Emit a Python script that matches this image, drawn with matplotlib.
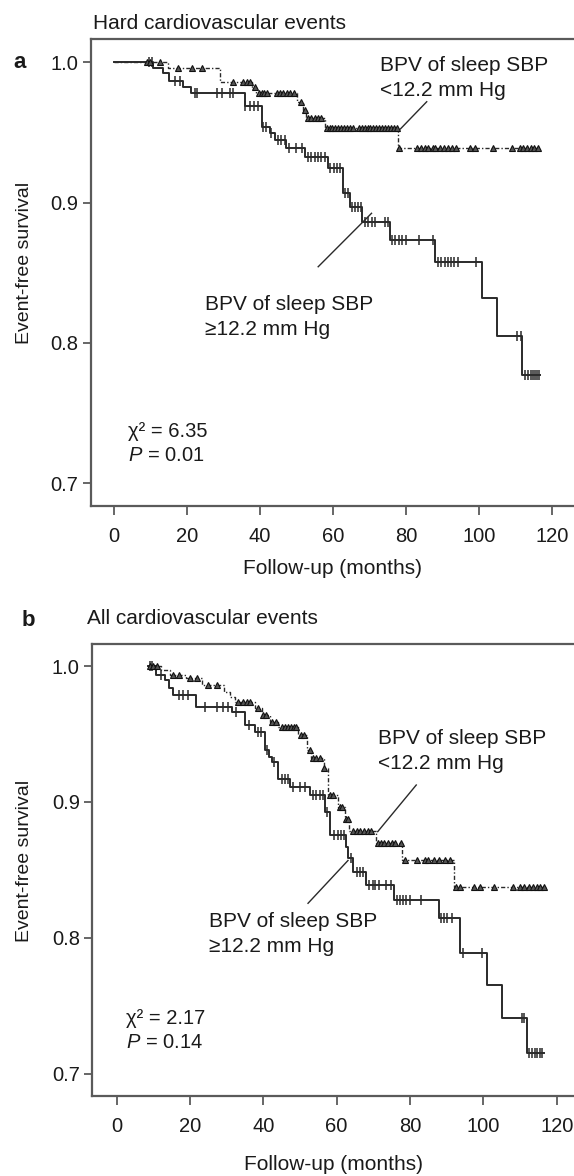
import numpy as np
import matplotlib
matplotlib.use("Agg")
import matplotlib.pyplot as plt

plt.rcParams['font.family'] = ['Liberation Sans', 'DejaVu Sans']
plt.rcParams['mathtext.fontset'] = 'custom'
plt.rcParams['mathtext.rm'] = 'Liberation Sans'
plt.rcParams['mathtext.it'] = 'Liberation Sans:italic'

# ---------------- data ----------------
# Panel a: hard cardiovascular events
a_hi_t = [0, 10.8, 13.5, 15.1, 19.0, 21.2, 35.8, 40.4, 42.7, 44.0, 47.2, 52.3, 58.6, 62.7, 64.6, 67.8, 75.5, 87.8, 100.8, 104.9, 111.8, 116.6]
a_hi_s = [1.0, 0.9957, 0.9922, 0.9869, 0.9826, 0.9783, 0.969, 0.954, 0.9494, 0.9446, 0.9387, 0.9327, 0.9245, 0.9066, 0.8971, 0.8864, 0.8733, 0.8579, 0.8318, 0.8049, 0.7771, 0.7771]
a_hi_cens = [9.5, 10.3, 16.7, 18.0, 22.2, 22.8, 28.1, 29.5, 31.7, 32.6, 36.0, 37.2, 38.4, 39.4, 40.9, 41.6, 43.1, 44.9, 45.8, 46.7, 47.9, 49.7, 51.5, 53.1, 54.0, 55.0, 55.9, 56.8, 57.7, 59.2, 60.1, 61.0, 61.9, 63.2, 64.0, 65.2, 66.0, 66.8, 67.5, 68.7, 69.6, 70.5, 71.4, 74.2, 75.0, 76.1, 77.0, 78.0, 78.9, 79.8, 83.4, 87.3, 88.7, 89.6, 90.5, 91.4, 92.3, 93.2, 94.1, 99.0, 110.3, 111.3, 112.5, 113.3, 114.0, 114.6, 115.2, 115.8, 116.4]

a_lo_t = [0, 14.9, 29.0, 37.7, 39.0, 50.0, 51.8, 52.7, 57.7, 77.8, 116.1]
a_lo_s = [1.0, 0.9957, 0.9862, 0.9826, 0.9779, 0.9715, 0.966, 0.960, 0.953, 0.9387, 0.9387]
a_lo_cens = [9.0, 10.0, 12.6, 17.6, 21.3, 24.0, 32.6, 35.4, 36.3, 37.2, 38.5, 39.7, 40.4, 41.1, 42.0, 44.5, 45.5, 46.4, 47.4, 48.3, 49.2, 51.3, 52.2, 53.1, 54.0, 54.9, 55.8, 56.8, 58.2, 59.0, 59.8, 60.6, 61.4, 62.2, 63.0, 63.8, 64.6, 65.4, 67.0, 67.8, 68.6, 69.4, 70.2, 71.0, 71.8, 72.6, 73.4, 74.2, 75.0, 75.8, 76.6, 77.4, 78.1, 83.0, 84.0, 85.0, 86.0, 87.2, 88.0, 89.2, 90.4, 91.5, 92.6, 93.6, 97.4, 98.8, 103.8, 108.8, 111.0, 112.0, 113.0, 114.0, 115.0, 116.0]

# Panel b: all cardiovascular events
b_hi_t = [8.5, 10.8, 13.1, 14.4, 15.5, 21.6, 31.5, 35.1, 37.8, 40.5, 41.5, 42.3, 44.1, 47.3, 52.7, 56.8, 58.1, 62.6, 63.2, 64.4, 68.0, 75.7, 87.8, 93.7, 100.9, 105.2, 111.9, 116.4]
b_hi_s = [1.0, 0.9934, 0.9897, 0.9836, 0.9787, 0.970, 0.9664, 0.9566, 0.9517, 0.9382, 0.9333, 0.9296, 0.917, 0.9113, 0.905, 0.8929, 0.8757, 0.8671, 0.8586, 0.8488, 0.839, 0.828, 0.8145, 0.789, 0.7654, 0.7414, 0.7152, 0.7152]
b_hi_cens = [9.0, 9.8, 12.0, 17.0, 18.0, 19.5, 24.0, 27.5, 29.0, 30.5, 32.5, 36.0, 38.5, 39.3, 41.0, 42.8, 45.0, 46.0, 46.8, 48.0, 50.0, 51.5, 53.5, 54.5, 55.5, 56.3, 57.5, 59.3, 60.3, 61.3, 62.0, 63.8, 65.5, 66.3, 67.2, 68.8, 69.8, 70.5, 71.5, 73.5, 74.8, 76.5, 77.3, 78.2, 79.0, 80.0, 83.0, 88.5, 89.3, 90.2, 91.5, 94.5, 99.5, 110.5, 111.0, 112.5, 113.3, 114.0, 114.7, 115.4, 116.0]

b_lo_t = [8.5, 12.0, 14.5, 19.0, 23.4, 29.3, 31.0, 32.4, 37.8, 39.6, 41.9, 44.1, 49.5, 51.8, 53.0, 56.5, 57.7, 60.4, 62.2, 63.5, 70.7, 77.9, 91.9, 117.0]
b_lo_s = [1.0, 0.997, 0.9934, 0.991, 0.986, 0.981, 0.977, 0.9735, 0.969, 0.964, 0.959, 0.9554, 0.9493, 0.938, 0.932, 0.925, 0.905, 0.8965, 0.8873, 0.879, 0.8696, 0.857, 0.8377, 0.8377]
b_lo_cens = [9.0, 10.0, 11.0, 15.5, 17.0, 20.0, 22.0, 25.0, 27.5, 33.0, 34.5, 35.5, 36.5, 38.5, 40.0, 40.8, 42.5, 43.5, 45.0, 46.0, 46.8, 47.5, 48.3, 49.0, 50.2, 51.0, 52.8, 53.5, 54.5, 55.5, 56.5, 58.2, 59.0, 60.8, 61.5, 62.5, 63.0, 64.5, 65.5, 66.5, 67.5, 68.5, 69.5, 71.2, 72.0, 73.0, 74.0, 75.0, 76.0, 77.5, 78.5, 82.0, 84.0, 85.0, 86.5, 88.0, 89.5, 91.0, 92.5, 93.5, 97.5, 99.0, 103.0, 108.0, 110.0, 111.0, 112.5, 113.5, 114.5, 115.5, 116.5]

x_ticks = [0, 20, 40, 60, 80, 100, 120]
y_ticks = [0.7, 0.8, 0.9, 1.0]
titles = ["Hard cardiovascular events", "All cardiovascular events"]
panel_letters = ["a", "b"]
stats = [("6.35", "0.01"), ("2.17", "0.14")]
label_lo = "BPV of sleep SBP\n<12.2 mm Hg"
label_hi = "BPV of sleep SBP\n\u226512.2 mm Hg"

# ---------------- figure ----------------
W, H = 574, 1176
fig = plt.figure(figsize=(W / 100, H / 100), dpi=100)

TXT = '#1a1a1a'
SP = '#5a5a5a'
LN = '#2a2a2a'


def surv_at(tt, ts, ss):
    ts = np.asarray(ts); ss = np.asarray(ss)
    idx = np.searchsorted(ts, tt, side='right') - 1
    idx = np.clip(idx, 0, len(ss) - 1)
    return ss[idx]


def make_panel(rect, xlim, ylim, hi, lo, title, tpos, stat, lo_txt, hi_txt, lo_line, hi_line, stat_pos):
    ax = fig.add_axes(rect)
    ax.set_xlim(*xlim)
    ax.set_ylim(*ylim)
    for s in ['left', 'bottom', 'top']:
        ax.spines[s].set_color(SP)
        ax.spines[s].set_linewidth(1.6)
    ax.spines['right'].set_visible(False)
    ax.set_xticks(x_ticks)
    ax.set_yticks(y_ticks)
    ax.set_yticklabels([f"{v:.1f}" for v in y_ticks])
    ax.tick_params(axis='x', direction='out', length=6.5, width=1.3, color=SP, pad=9, labelsize=14.5, labelcolor=TXT)
    ax.tick_params(axis='y', direction='out', length=6, width=1.3, color=SP, pad=3, labelsize=14.5, labelcolor=TXT)

    (ht, hs, hc), (lt, ls, lc) = hi, lo
    ax.step(ht, hs, where='post', color=LN, lw=1.4, zorder=3)
    ax.plot(hc, surv_at(hc, ht, hs), linestyle='none', marker='|', ms=7, mew=1.1, color=LN, zorder=4)
    ax.step(lt, ls, where='post', color=LN, lw=1.0, linestyle=(0, (3, 1.5, 1, 1.5)), zorder=3)
    ax.plot(lc, surv_at(lc, lt, ls), linestyle='none', marker='^', ms=4.5, mew=0.8, mfc='#555555', mec='#111111', zorder=4)

    ax.text(tpos[0], tpos[1], title, transform=ax.transAxes, ha='left', va='center', fontsize=15, color=TXT)
    ax.set_xlabel("Follow-up (months)", fontsize=15, color=TXT)
    ax.set_ylabel("Event-free survival", fontsize=14, color=TXT)

    ax.text(lo_txt[0], lo_txt[1], label_lo, ha='left', va='center', fontsize=15, color=TXT, linespacing=1.42)
    ax.text(hi_txt[0], hi_txt[1], label_hi, ha='left', va='center', fontsize=15, color=TXT, linespacing=1.42)
    ax.plot(lo_line[0], lo_line[1], color=LN, lw=1.0)
    ax.plot(hi_line[0], hi_line[1], color=LN, lw=1.0)
    ax.text(stat_pos[0], stat_pos[1], "\u03c7\u00b2 = " + stat[0] + "\n$\\mathit{P}$ = " + stat[1],
            ha='left', va='center', fontsize=14.5, color=TXT, linespacing=1.35)
    return ax


# panel a
axa = make_panel([90.5 / W, 1 - 505.7 / H, 1 - 90.5 / W, (505.7 - 39.3) / H],
                 (-6.4, 125.9), (0.684, 1.0164),
                 (a_hi_t, a_hi_s, a_hi_cens), (a_lo_t, a_lo_s, a_lo_cens),
                 titles[0], (0.005, 1.034), stats[0],
                 (72.8, 0.9886), (24.9, 0.8185),
                 ([85.6, 78.4], [0.9719, 0.9525]), ([55.9, 70.5], [0.8543, 0.8924]),
                 (3.8, 0.7281))
# panel b
axb = make_panel([92.3 / W, 1 - 1095.7 / H, 1 - 92.3 / W, (1095.7 - 644) / H],
                 (-6.6, 124.7), (0.684, 1.0162),
                 (b_hi_t, b_hi_s, b_hi_cens), (b_lo_t, b_lo_s, b_lo_cens),
                 titles[1], (-0.0116, 1.057), stats[1],
                 (71.2, 0.9376), (25.2, 0.8028),
                 ([81.7, 71.2], [0.9125, 0.8782]), ([52.2, 63.1], [0.8255, 0.857]),
                 (2.5, 0.7318))

for ax, ycen in ((axa, 569), (axb, 1165)):
    pos = ax.get_position()
    ax_h = pos.height * H
    ax_bot = (1 - pos.y0) * H
    ax.xaxis.set_label_coords(0.5, (ax_bot - ycen) / ax_h)
    ax.xaxis.label.set_va('center')
    ax_w = pos.width * W
    ax.yaxis.set_label_coords((25 - pos.x0 * W) / ax_w, 0.52)
    ax.yaxis.label.set_va('center')

fig.text(20 / W, 1 - 62 / H, panel_letters[0], fontsize=16, fontweight='bold', ha='center', va='center', color=TXT)
fig.text(28 / W, 1 - 620 / H, panel_letters[1], fontsize=16, fontweight='bold', ha='center', va='center', color=TXT)

fig.savefig("out.png", dpi=100)
